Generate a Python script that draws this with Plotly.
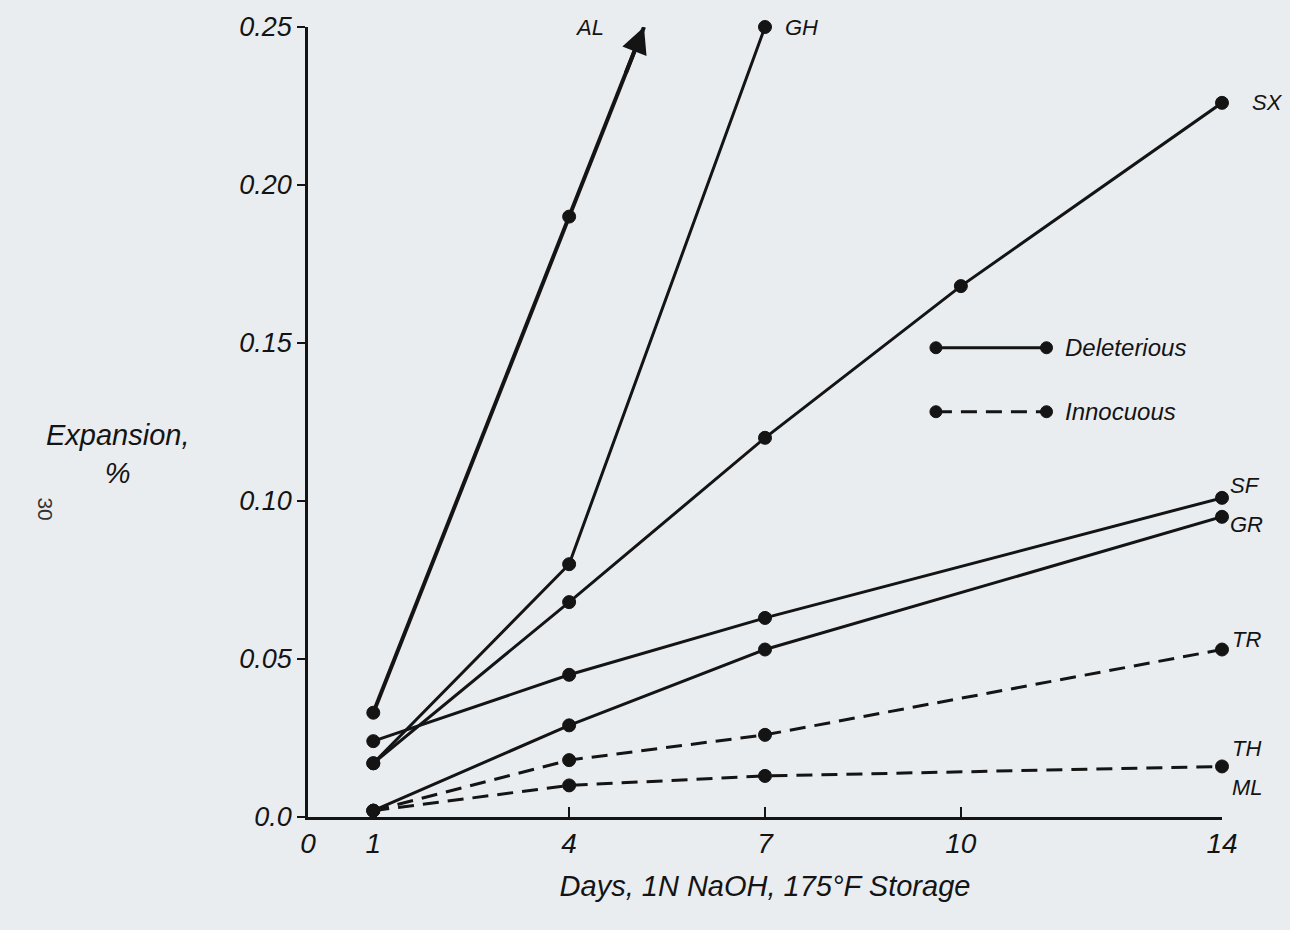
import plotly.graph_objects as go

# ---------------- data ----------------
days_AL = [1, 4]
exp_AL = [0.033, 0.190]
days_GH = [1, 4, 7]
exp_GH = [0.017, 0.080, 0.250]
days_SX = [1, 4, 7, 10, 14]
exp_SX = [0.017, 0.068, 0.120, 0.168, 0.226]
days_SF = [1, 4, 7, 14]
exp_SF = [0.024, 0.045, 0.063, 0.101]
days_GR = [1, 4, 7, 14]
exp_GR = [0.002, 0.029, 0.053, 0.095]
days_TR = [1, 4, 7, 14]
exp_TR = [0.002, 0.018, 0.026, 0.053]
days_TH = [1, 4, 7, 14]
exp_TH = [0.002, 0.010, 0.013, 0.016]
days_ML = [14]
exp_ML = [0.0]

x_ticks = [0, 1, 4, 7, 10, 14]
y_ticks = [0.0, 0.05, 0.10, 0.15, 0.20, 0.25]
y_ticktext = ["0.0", "0.05", "0.10", "0.15", "0.20", "0.25"]
Y_MAX = 0.25
X_MAX = 14

FONT = "Liberation Sans, Arial, sans-serif"
BG = "#eaedf0"
INK = "#141414"
DASH = "16px,9px"

fig = go.Figure()

def add_series(xs, ys, dash, width=3):
    fig.add_trace(go.Scatter(
        x=xs, y=ys, mode="lines+markers",
        line=dict(color=INK, width=width, dash=dash),
        marker=dict(symbol="circle", size=13, color=INK,
                    line=dict(color=INK, width=1)),
        cliponaxis=False, showlegend=False, hoverinfo="x+y"))

# AL: extrapolate its last segment up to the top of the axis for the arrow
slope = (exp_AL[1] - exp_AL[0]) / (days_AL[1] - days_AL[0])
tip_x = days_AL[1] + (Y_MAX - exp_AL[1]) / slope
fig.add_trace(go.Scatter(
    x=days_AL + [tip_x], y=exp_AL + [Y_MAX], mode="lines+markers",
    line=dict(color=INK, width=4),
    marker=dict(symbol="circle", size=[13, 13, 0], color=INK,
                opacity=1, line=dict(color=INK, width=1)),
    cliponaxis=False, showlegend=False))
fig.add_annotation(x=tip_x, y=Y_MAX, ax=days_AL[1] + 0.75 * (tip_x - days_AL[1]),
                   ay=exp_AL[1] + 0.75 * (Y_MAX - exp_AL[1]),
                   axref="x", ayref="y", xref="x", yref="y",
                   text="", showarrow=True, arrowhead=2, arrowsize=1.3,
                   arrowwidth=4, arrowcolor=INK, standoff=0)

add_series(days_GH, exp_GH, "solid")
add_series(days_SX, exp_SX, "solid")
add_series(days_SF, exp_SF, "solid")
add_series(days_GR, exp_GR, "solid")
add_series(days_TR, exp_TR, DASH)
add_series(days_TH, exp_TH, DASH)

# series labels
lab_font = dict(family=FONT, size=22, color=INK, style="italic")
labels = [
    ("AL", tip_x, Y_MAX, "right", -38, 0),
    ("GH", days_GH[-1], exp_GH[-1], "left", 18, 0),
    ("SX", days_SX[-1], exp_SX[-1], "left", 28, 0),
    ("SF", days_SF[-1], exp_SF[-1], "left", 6, 12),
    ("GR", days_GR[-1], exp_GR[-1], "left", 6, -8),
    ("TR", days_TR[-1], exp_TR[-1], "left", 8, 10),
    ("TH", days_TH[-1], exp_TH[-1], "left", 8, 18),
    ("ML", days_ML[-1], exp_ML[-1], "left", 8, 30),
]
for t, x, y, xa, xs, ys in labels:
    fig.add_annotation(x=x, y=y, text=t, showarrow=False, xanchor=xa,
                       yanchor="middle", xshift=xs, yshift=ys, font=lab_font)

# legend drawn with shapes (paper coordinates)
def legend_item(y, dash, text):
    x0, x1 = 0.687, 0.808
    fig.add_shape(type="line", xref="paper", yref="paper", x0=x0, x1=x1,
                  y0=y, y1=y, line=dict(color=INK, width=3, dash=dash))
    for xx in (x0, x1):
        fig.add_shape(type="circle", xref="paper", yref="paper",
                      xsizemode="pixel", ysizemode="pixel",
                      xanchor=xx, yanchor=y, x0=-6, x1=6, y0=-6, y1=6,
                      fillcolor=INK, line=dict(color=INK, width=1))
    fig.add_annotation(xref="paper", yref="paper", x=x1, y=y, text=text,
                       showarrow=False, xanchor="left", yanchor="middle",
                       xshift=16, font=dict(family=FONT, size=24, color=INK, style="italic"))

legend_item(0.594, "solid", "Deleterious")
legend_item(0.513, DASH, "Innocuous")

# y-axis title (horizontal, two lines)
fig.add_annotation(xref="paper", yref="paper", x=-0.208, y=0.46,
                   text="Expansion,<br>%", showarrow=False, align="center",
                   xanchor="center", yanchor="middle",
                   font=dict(family=FONT, size=29, color=INK, style="italic"))
# page number
fig.add_annotation(xref="paper", yref="paper", x=-0.302, y=0.39, text="30",
                   showarrow=False, textangle=90,
                   font=dict(family=FONT, size=21, color="#333333"))

fig.update_layout(
    width=1290, height=930,
    margin=dict(l=308, r=68, t=27, b=113),
    paper_bgcolor=BG, plot_bgcolor=BG,
    font=dict(family=FONT, color=INK),
    xaxis=dict(range=[0, X_MAX], tickvals=x_ticks, ticktext=[str(v) for v in x_ticks],
               showgrid=False, zeroline=False, showline=True, linecolor=INK,
               linewidth=2.5, ticks="inside", ticklen=10, tickwidth=2,
               tickcolor=INK,
               tickfont=dict(family=FONT, size=28, color=INK, style="italic"),
               title=dict(text="Days, 1N NaOH, 175°F Storage", standoff=18,
                          font=dict(family=FONT, size=29, color=INK, style="italic"))),
    yaxis=dict(range=[0, Y_MAX], tickvals=y_ticks, ticktext=y_ticktext,
               showgrid=False, zeroline=False, showline=True, linecolor=INK,
               linewidth=2.5, ticks="outside", ticklen=8, tickwidth=2,
               tickcolor=INK,
               tickfont=dict(family=FONT, size=27, color=INK, style="italic")),
)

fig.write_html("out.html", config={"displayModeBar": False},
               post_script="document.body.style.margin='0';document.body.style.background='#eaedf0';")
